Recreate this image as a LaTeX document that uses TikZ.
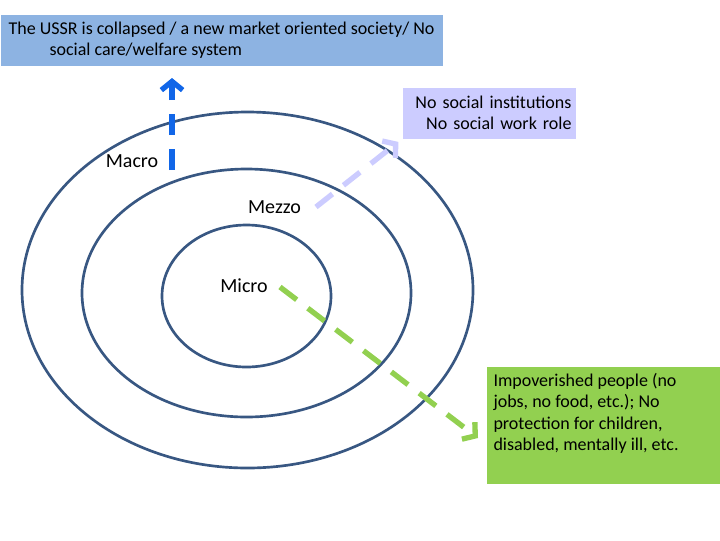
\documentclass[tikz,border=0pt]{standalone}
\usepackage{fontspec}
\setmainfont{Carlito}
\usetikzlibrary{arrows.meta}

\definecolor{ringblue}{RGB}{56,87,130}
\definecolor{ussrblue}{RGB}{141,179,226}
\definecolor{instlilac}{RGB}{204,204,255}
\definecolor{poorgreen}{RGB}{146,208,80}
\definecolor{macroarrow}{RGB}{17,102,232}

\tikzset{every picture/.style={line width=0.75pt}}
\tikzset{
  ring/.style={color=ringblue, line width=2pt},
  levelarrow/.style={line width=4pt, dash pattern=on 15.75pt off 10.5pt, -{Straight Barb[length=6.5pt,width=16pt]}},
  level/.style={inner sep=0pt, font=\fontsize{15}{18}\selectfont},
  infobox/.style={inner sep=0pt, font=\fontsize{13.5}{16}\selectfont}
}

\begin{document}
\begin{tikzpicture}[x=0.75pt,y=0.75pt,yscale=-1,xscale=1]
\useasboundingbox (0,0) rectangle (720,540);

%Shape: Ellipse outer (macro)
\draw [ring] (247.5,290) ellipse (225.5 and 178);
%Shape: Ellipse middle (mezzo)
\draw [ring] (246.5,293) ellipse (164.5 and 124);
%Shape: Ellipse inner (micro)
\draw [ring] (246.5,296) ellipse (84.5 and 71);

% Text Node
\node (macro) [level] at (132,161) {Macro};
% Text Node
\node (mezzo) [level] at (274.5,207) {Mezzo};
% Text Node
\node (micro) [level] at (244,286) {Micro};

% Box: USSR
\node (ussr) [infobox, fill=ussrblue, anchor=north west, minimum width=331.5pt, minimum height=38.25pt, align=left] at (0,14) {The USSR is collapsed / a new market oriented society/ No\\\hspace*{30.75pt}social care/welfare system};
% Box: institutions
\node (inst) [infobox, fill=instlilac, anchor=north west, minimum width=129.75pt, minimum height=38.25pt, inner xsep=3pt, text width=123.75pt, align=right] at (402,87) {No social institutions\\No social work role};
% Box: impoverished
\node (impov) [infobox, fill=poorgreen, anchor=north west, inner xsep=5.25pt, inner ysep=5pt] at (486,366) {\parbox[t][77.75pt][t]{165pt}{\raggedright Impoverished people (no\\jobs, no food, etc.); No\\protection for children,\\disabled, mentally ill, etc.}};

% Arrow ends
\coordinate (macroStart) at (172,170);
\coordinate (mezzoStart) at (316,207);
\coordinate (microStart) at (280,287);
\coordinate (impovTip) at (478,438);

%Straight Lines: level arrows
\draw [levelarrow, color=macroarrow, shorten >=9pt] (macroStart) -- (ussr.south -| macroStart);
\draw [levelarrow, color=instlilac, shorten >=3.5pt] (mezzoStart) -- (inst.south west);
\draw [levelarrow, color=poorgreen] (microStart) -- (impovTip);

\end{tikzpicture}
\end{document}
